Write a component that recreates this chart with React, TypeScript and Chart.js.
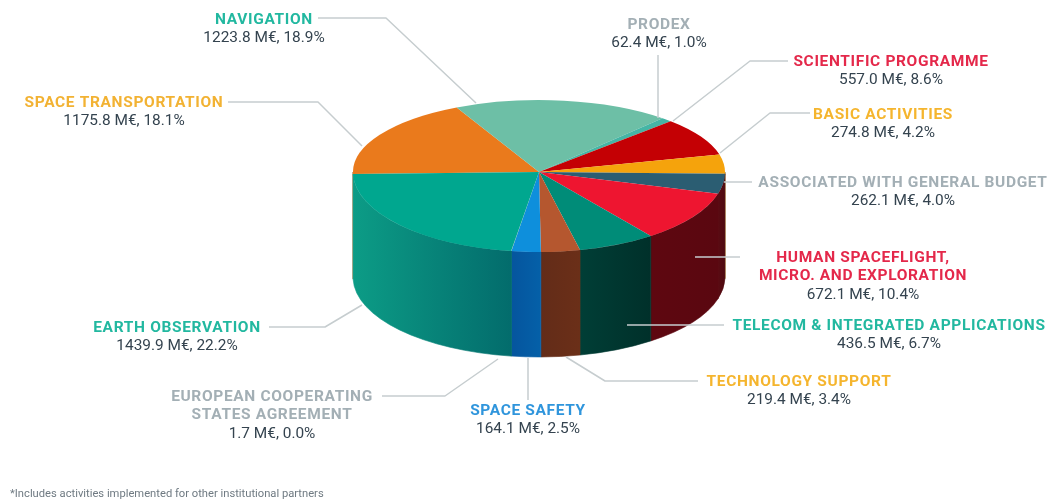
import React, { useEffect, useRef } from "react";
import { Chart, registerables } from "chart.js";

Chart.register(...registerables);

// Budget lines, clockwise from the nine o'clock position
const programmes = [
  ["SPACE TRANSPORTATION"],
  ["NAVIGATION"],
  ["PRODEX"],
  ["SCIENTIFIC PROGRAMME"],
  ["BASIC ACTIVITIES"],
  ["ASSOCIATED WITH GENERAL BUDGET"],
  ["HUMAN SPACEFLIGHT,", "MICRO. AND EXPLORATION"],
  ["TELECOM & INTEGRATED APPLICATIONS"],
  ["TECHNOLOGY SUPPORT"],
  ["SPACE SAFETY"],
  ["EUROPEAN COOPERATING", "STATES AGREEMENT"],
  ["EARTH OBSERVATION"],
];
const budgetMEuro = [1175.8, 1223.8, 62.4, 557.0, 274.8, 262.1, 672.1, 436.5, 219.4, 164.1, 1.7, 1439.9];
const sharePercent = [18.1, 18.9, 1.0, 8.6, 4.2, 4.0, 10.4, 6.7, 3.4, 2.5, 0.0, 22.2];

const topColours = ["#EA7A1C", "#6DBFA6", "#45B5A5", "#C40004", "#F5A30C", "#2B5D72", "#EE1530", "#008C78", "#B5572F", "#0E8FDC", "#8FA3AD", "#00A78F"];
// Left and right stops of the shaded outer wall
const wallColours = [
  ["#A55510", "#A55510"], ["#4A8A78", "#4A8A78"], ["#8A938E", "#8A938E"], ["#800003", "#800003"],
  ["#A06A08", "#A06A08"], ["#4E0A10", "#5A0A12"], ["#5A0710", "#5E0710"], ["#00302A", "#003E36"],
  ["#6B2F18", "#632C18"], ["#0560A8", "#05559E"], ["#006C70", "#006C70"], ["#036C6C", "#0C9C86"],
];
const titleColours = ["#F2B233", "#22B8A0", "#A3AFB5", "#E4284A", "#F5B52E", "#A3AFB5", "#E4284A", "#22B8A0", "#F5B52E", "#2F95DC", "#A3AFB5", "#22B8A0"];

// Label anchors: centre x and the vertical centre of the first text row
const labelX = [124, 264, 659, 891, 883, 903, 863, 889, 799, 528, 272, 177];
const labelY = [103, 20, 25, 62, 115, 183, 258, 326, 382, 411, 397, 328];
const leaderLines = [
  [[228, 102], [318, 102], [362, 146]],
  [[318, 18], [386, 18], [476, 103]],
  [[658, 55], [658, 118]],
  [[788, 61], [750, 61], [673, 121]],
  [[810, 113], [770, 113], [720, 153]],
  [[724, 182], [752, 182]],
  [[695, 257], [740, 257]],
  [[627, 325], [724, 325]],
  [[566, 357], [605, 381], [698, 381]],
  [[528, 358], [528, 400]],
  [[382, 396], [445, 396], [498, 359]],
  [[269, 327], [325, 327], [362, 305]],
];
const footnote = "*Includes activities implemented for other institutional partners";

const RADIUS = 186;
const RY_BACK = 72;
const RY_FRONT = 80;
const DEPTH = 105;

const pie3d = {
  id: "pie3d",
  beforeDatasetDraw(chart: any) {
    const { ctx } = chart;
    const arcs = chart.getDatasetMeta(0).data;
    const cx = arcs[0].x;
    const cy = arcs[0].y;
    const kf = RY_FRONT / RADIUS;

    // Outer wall, front half only
    arcs.forEach((arc: any, i: number) => {
      const norm = (a: number) => ((a % (2 * Math.PI)) + 2 * Math.PI) % (2 * Math.PI);
      let a0 = norm(arc.startAngle);
      let a1 = a0 + (arc.endAngle - arc.startAngle);
      if (a0 > Math.PI + 1e-6) { a0 -= 2 * Math.PI; a1 -= 2 * Math.PI; }
      a0 = Math.max(a0, 0);
      a1 = Math.min(a1, Math.PI);
      if (a1 <= a0) return;
      const xr = cx + RADIUS * Math.cos(a0);
      const xl = cx + RADIUS * Math.cos(a1);
      const g = ctx.createLinearGradient(xl, 0, xr, 0);
      g.addColorStop(0, wallColours[i][1]);
      g.addColorStop(1, wallColours[i][0]);
      ctx.save();
      ctx.beginPath();
      ctx.ellipse(cx, cy, RADIUS, RADIUS * kf, 0, a0, a1);
      ctx.ellipse(cx, cy + DEPTH, RADIUS, RADIUS * kf, 0, a1, a0, true);
      ctx.closePath();
      ctx.fillStyle = g;
      ctx.strokeStyle = g;
      ctx.lineWidth = 0.6;
      ctx.fill();
      ctx.stroke();
      ctx.restore();
    });

    // Flattened top face: back and front halves have slightly different depth
    const half = (y: number, h: number, ry: number) => {
      ctx.save();
      ctx.beginPath();
      ctx.rect(0, y, chart.width, h);
      ctx.clip();
      ctx.translate(cx, cy);
      ctx.scale(1, ry / RADIUS);
      ctx.translate(-cx, -cy);
      arcs.forEach((arc: any) => arc.draw(ctx));
      ctx.restore();
    };
    half(0, cy, RY_BACK);
    half(cy, chart.height - cy, RY_FRONT);
    return false;
  },
  afterDatasetsDraw(chart: any) {
    const { ctx } = chart;
    ctx.save();
    ctx.strokeStyle = "#C6CDCF";
    ctx.lineWidth = 1.5;
    ctx.lineJoin = "round";
    leaderLines.forEach((pts) => {
      ctx.beginPath();
      pts.forEach(([x, y], k) => (k ? ctx.lineTo(x, y) : ctx.moveTo(x, y)));
      ctx.stroke();
    });

    ctx.textAlign = "center";
    ctx.textBaseline = "middle";
    programmes.forEach((rows, i) => {
      let y = labelY[i];
      ctx.font = "bold 15.5px Roboto";
      ctx.letterSpacing = "0.65px";
      ctx.fillStyle = titleColours[i];
      rows.forEach((row) => {
        ctx.fillText(row, labelX[i], y);
        y += 18.5;
      });
      ctx.font = "15.4px Roboto";
      ctx.letterSpacing = "0px";
      ctx.fillStyle = "#34434F";
      ctx.fillText(`${budgetMEuro[i].toFixed(1)} M€, ${sharePercent[i].toFixed(1)}%`, labelX[i], y);
    });

    ctx.textAlign = "left";
    ctx.font = "11.2px Roboto";
    ctx.fillStyle = "#6F7A82";
    ctx.fillText(footnote, 10, 494);
    ctx.restore();
  },
};

export default function App() {
  const ref = useRef<HTMLCanvasElement>(null);
  useEffect(() => {
    document.body.style.margin = "0";
    const chart = new Chart(ref.current!, {
      type: "pie",
      data: {
        labels: programmes.map((rows) => rows.join(" ")),
        datasets: [{ data: budgetMEuro, backgroundColor: topColours, borderWidth: 0, radius: RADIUS }],
      },
      options: {
        responsive: false,
        animation: false,
        rotation: -91.5,
        layout: { padding: { left: 23, bottom: 159 } },
        plugins: { legend: { display: false }, tooltip: { enabled: false } },
      },
      plugins: [pie3d],
    });
    return () => chart.destroy();
  }, []);
  return <canvas ref={ref} width={1055} height={503} style={{ display: "block" }} />;
}
